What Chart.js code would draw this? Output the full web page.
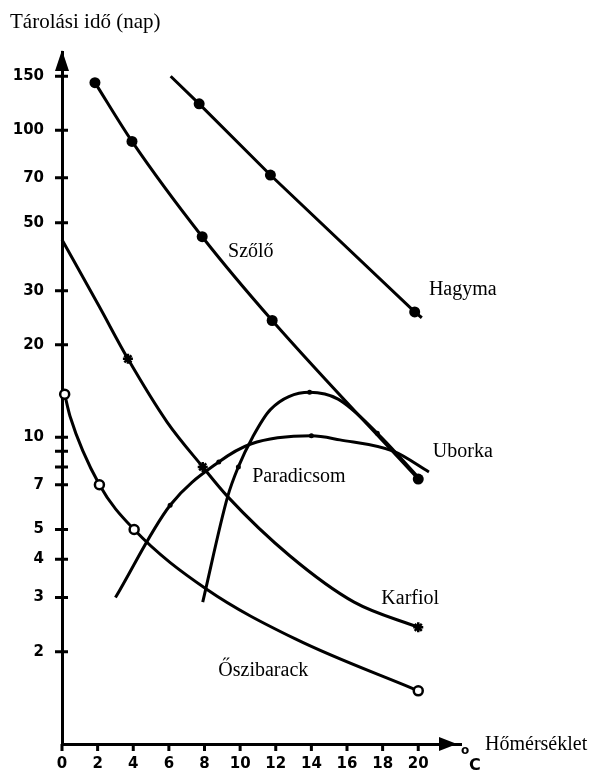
<!DOCTYPE html>
<html>
<head>
<meta charset="utf-8">
<script src="https://cdn.jsdelivr.net/npm/chart.js@4"></script>
<style>
  html, body { margin:0; padding:0; background:#fff; }
  #wrap { width:590px; height:771px; }
</style>
</head>
<body>
<div id="wrap"><canvas id="c" width="590" height="771"></canvas></div>
<script>
// tengelyek
const tempTicks = [0, 2, 4, 6, 8, 10, 12, 14, 16, 18, 20];
const napTicks = [2, 3, 4, 5, 7, 8, 9, 10, 20, 30, 50, 70, 100, 150];
const napTickLabels = ['2', '3', '4', '5', '7', '', '', '10', '20', '30', '50', '70', '100', '150'];

// görbék (hőmérséklet °C, tárolási idő nap)
const szoloX = [1.85, 3.93, 7.87, 11.8, 20];
const szoloY = [143, 92, 45, 24, 7.3];

const hagymaX = [6.1, 7.7, 11.7, 19.8, 20.2];
const hagymaY = [150, 122, 71.5, 25.6, 24.5];
const hagymaPont = [0, 1, 1, 1, 0];

const karfiolX = [0, 2.1, 3.7, 5.9, 7.9, 9.3, 12.8, 16.4, 20];
const karfiolY = [44, 26.6, 18, 11.2, 8.0, 6.4, 4.1, 2.9, 2.4];
const karfiolPont = [0, 0, 1, 0, 1, 0, 0, 0, 1];

const barackX = [0.15, 0.45, 2.1, 4.05, 8.1, 13.1, 20];
const barackY = [13.8, 11.7, 7.0, 5.0, 3.2, 2.2, 1.49];
const barackPont = [1, 0, 1, 1, 0, 0, 1];

const paradicsomX = [7.9, 9.3, 9.9, 10.7, 11.7, 13.9, 15.5, 17.7, 20];
const paradicsomY = [2.9, 6.4, 8.0, 10, 12.3, 14.0, 13.3, 10.3, 7.4];
const paradicsomPont = [0, 0, 1, 0, 0, 1, 0, 1, 0];

const uborkaX = [3.0, 6.07, 8.8, 10.6, 14, 15.6, 18.6, 20.6];
const uborkaY = [3.0, 6.0, 8.3, 9.5, 10.1, 9.8, 9.0, 7.7];
const uborkaPont = [0, 1, 1, 0, 1, 0, 0, 0];

// feliratok
const cimkek = ['Szőlő', 'Hagyma', 'Uborka', 'Paradicsom', 'Karfiol', 'Őszibarack'];
const cimkeX = [10.6, 22.5, 22.5, 13.3, 19.55, 11.3];
const cimkeY = [40.2, 30.3, 8.93, 7.41, 2.97, 1.73];

const pts = (xs, ys) => xs.map((x, i) => ({ x, y: ys[i] }));

function series(xs, ys, opts){
  return Object.assign({
    data: pts(xs, ys),
    showLine: true,
    borderColor: '#000',
    backgroundColor: '#000',
    borderWidth: 3,
    cubicInterpolationMode: 'monotone',
    pointBorderWidth: 0,
    clip: false
  }, opts);
}

const datasets = [
  series(szoloX, szoloY, { pointRadius: 5.5, pointBackgroundColor: '#000' }),
  series(hagymaX, hagymaY, { tension: 0, cubicInterpolationMode: 'default',
    pointRadius: hagymaPont.map(p => p ? 5.5 : 0) }),
  series(karfiolX, karfiolY, { pointStyle: 'star', pointBorderWidth: 2.5,
    pointRadius: karfiolPont.map(p => p ? 5 : 0) }),
  series(barackX, barackY, { pointBackgroundColor: '#fff', pointBorderColor: '#000', pointBorderWidth: 2.5,
    pointRadius: barackPont.map(p => p ? 4.5 : 0) }),
  series(paradicsomX, paradicsomY, { pointRadius: paradicsomPont.map(p => p ? 2.5 : 0) }),
  series(uborkaX, uborkaY, { pointRadius: uborkaPont.map(p => p ? 2.5 : 0) })
];

const tickFont = { family: "'DejaVu Sans', sans-serif", size: 15, weight: 'bold' };
const serif = "'Liberation Serif', 'Times New Roman', serif";

// tengely díszítés: átmenő osztásjelek, nyilak, szövegek
const decor = {
  id: 'decor',
  afterDraw(chart){
    const { ctx, chartArea: a, scales: { x, y } } = chart;
    ctx.save();
    ctx.strokeStyle = '#000';
    ctx.fillStyle = '#000';
    ctx.lineWidth = 3;
    ctx.beginPath();
    y.ticks.forEach(t => {
      const py = y.getPixelForValue(t.value);
      ctx.moveTo(a.left - 7, py); ctx.lineTo(a.left + 6, py);
    });
    x.ticks.forEach(t => {
      const px = x.getPixelForValue(t.value);
      ctx.moveTo(px, a.bottom); ctx.lineTo(px, a.bottom + 7);
    });
    ctx.stroke();

    // nyilak
    ctx.beginPath();
    ctx.moveTo(a.left, a.top - 2);
    ctx.lineTo(a.left - 7, a.top + 19);
    ctx.lineTo(a.left + 7, a.top + 19);
    ctx.closePath();
    ctx.moveTo(a.right - 4, a.bottom);
    ctx.lineTo(a.right - 22, a.bottom - 7);
    ctx.lineTo(a.right - 22, a.bottom + 7);
    ctx.closePath();
    ctx.fill();

    // görbék nevei
    ctx.font = '20px ' + serif;
    ctx.textAlign = 'center';
    ctx.textBaseline = 'middle';
    cimkek.forEach((s, i) => {
      ctx.fillText(s, x.getPixelForValue(cimkeX[i]), y.getPixelForValue(cimkeY[i]));
    });

    ctx.textAlign = 'left';
    ctx.font = '21px ' + serif;
    ctx.fillText('Tárolási idő (nap)', 10, 22);
    ctx.font = '20px ' + serif;
    ctx.fillText('Hőmérséklet', 485, 745);

    ctx.font = "bold 12px 'DejaVu Sans', sans-serif";
    ctx.fillText('o', 461, 751);
    ctx.font = "bold 16px 'DejaVu Sans', sans-serif";
    ctx.fillText('C', 469, 766);
    ctx.restore();
  }
};

new Chart(document.getElementById('c'), {
  type: 'scatter',
  data: { datasets },
  options: {
    responsive: false,
    animation: false,
    layout: { padding: { left: 0, top: 52, right: 129, bottom: 0 } },
    plugins: { legend: { display: false }, tooltip: { enabled: false } },
    scales: {
      x: {
        type: 'linear', min: 0, max: 22.4,
        grid: { display: false, drawTicks: false },
        border: { display: true, color: '#000', width: 3 },
        afterBuildTicks: s => { s.ticks = tempTicks.map(v => ({ value: v })); },
        afterFit: s => { s.height = 25; },
        ticks: { color: '#000', font: tickFont, padding: 11, maxRotation: 0, autoSkip: false,
          callback: v => String(v) }
      },
      y: {
        type: 'logarithmic', min: 1, max: 180,
        grid: { display: false, drawTicks: false },
        border: { display: true, color: '#000', width: 3 },
        afterBuildTicks: s => { s.ticks = napTicks.map(v => ({ value: v })); },
        afterFit: s => { s.width = 62; },
        ticks: { color: '#000', font: tickFont, padding: 18, autoSkip: false,
          callback: (v, i) => napTickLabels[i] }
      }
    }
  },
  plugins: [decor]
});
</script>
</body>
</html>
